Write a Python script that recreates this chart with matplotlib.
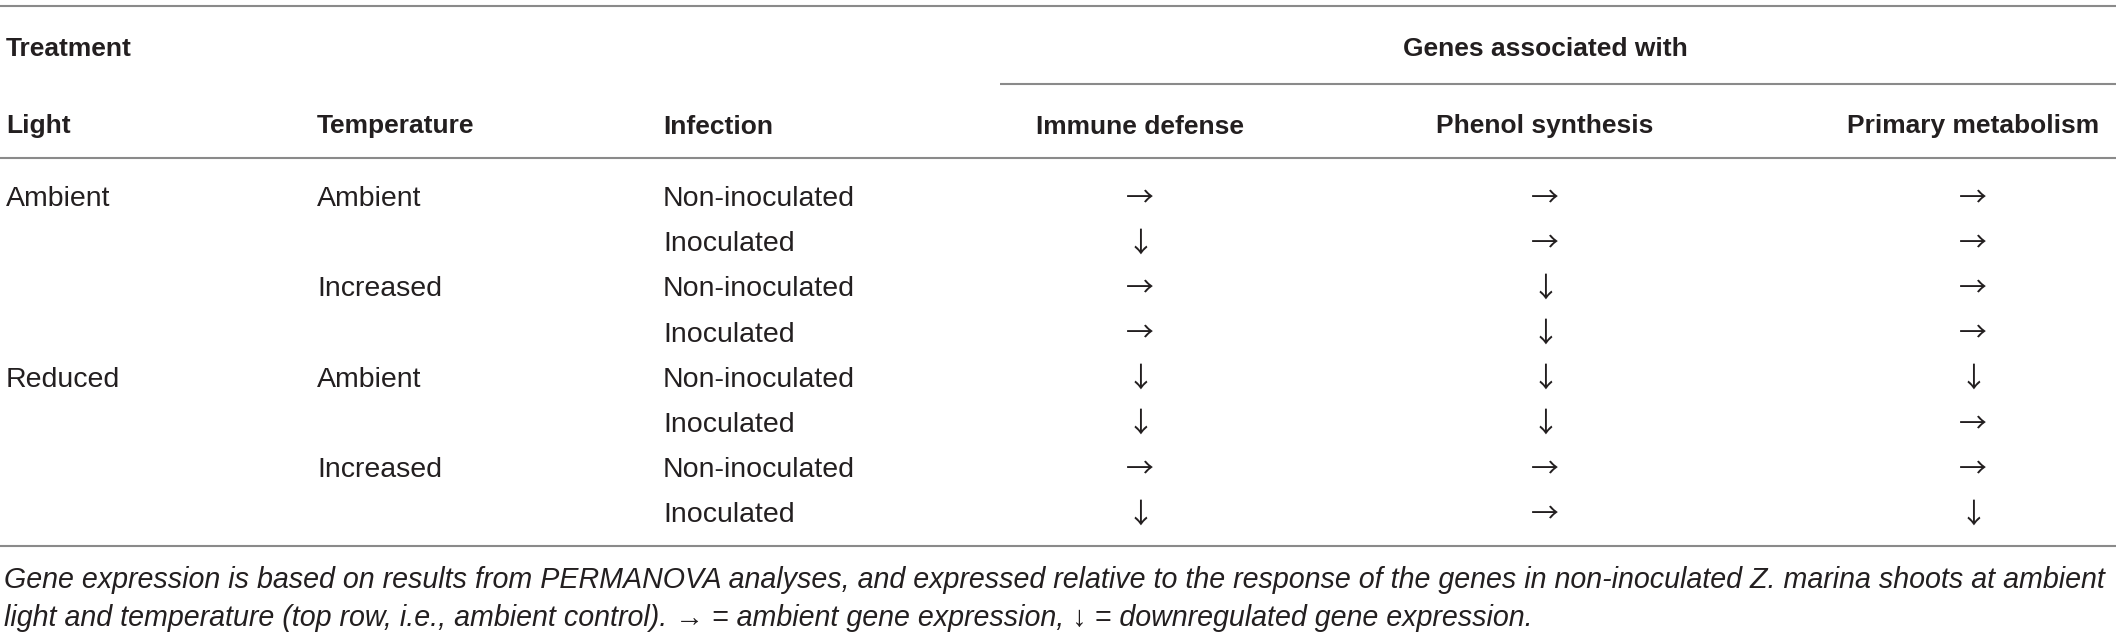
import matplotlib.pyplot as plt

plt.rcParams['font.family'] = ['Liberation Sans', 'DejaVu Sans']

# Table contents
light = ['Ambient', '', '', '', 'Reduced', '', '', '']
temperature = ['Ambient', '', 'Increased', '', 'Ambient', '', 'Increased', '']
infection = ['Non-inoculated', 'Inoculated'] * 4
immune = ['→', '↓', '→', '→', '↓', '↓', '→', '↓']
phenol = ['→', '→', '↓', '↓', '↓', '↓', '→', '→']
primary = ['→', '→', '→', '→', '↓', '→', '→', '↓']

group_header = 'Genes associated with'
col_headers = ['Light', 'Temperature', 'Infection',
               'Immune defense', 'Phenol synthesis', 'Primary metabolism']
footnote = ['Gene expression is based on results from PERMANOVA analyses, and expressed '
            'relative to the response of the genes in non-inoculated Z. marina shoots at ambient',
            'light and temperature (top row, i.e., ambient control). → = ambient gene expression, '
            '↓ = downregulated gene expression.']

W, H = 2118, 632
TXT = '#231f20'
LINE = '#8a8a8a'

fig = plt.figure(figsize=(W / 100, H / 100), dpi=100)
ax = fig.add_axes([0, 0, 1, 1])
ax.set_xlim(0, W)
ax.set_ylim(H, 0)
ax.axis('off')

left_x = [6, 317, 663]
center_x = [1140, 1545, 1973]
fs = 20.5
fs_head = 19

# header
ax.text(left_x[0], 47, 'Treatment', fontsize=fs_head, fontweight='bold', color=TXT,
        va='center_baseline', ha='left')
ax.text(center_x[1], 47, group_header, fontsize=fs_head, fontweight='bold', color=TXT,
        va='center_baseline', ha='center')
for x, h in zip(left_x, col_headers[:3]):
    ax.text(x, 124, h, fontsize=fs_head, fontweight='bold', color=TXT,
            va='center_baseline', ha='left')
for x, h in zip(center_x, col_headers[3:]):
    ax.text(x, 124, h, fontsize=fs_head, fontweight='bold', color=TXT,
            va='center_baseline', ha='center')

ax.hlines([6, 158, 546], 0, 2116, color=LINE, lw=1.5)
ax.hlines(84, 1000, 2116, color=LINE, lw=1.5)

# body rows
row_y0, row_dy = 196, 45.2
for i in range(len(infection)):
    y = row_y0 + i * row_dy
    for x, col in zip(left_x, [light, temperature, infection]):
        ax.text(x, y, col[i], fontsize=fs, color=TXT, va='center_baseline', ha='left')
    for x, col in zip(center_x, [immune, phenol, primary]):
        ax.text(x, y + 2, col[i], fontsize=20, color=TXT, va='center', ha='center',
                family=['Noto Sans CJK JP', 'DejaVu Sans'])

# footnote
for j, line in enumerate(footnote):
    ax.text(4, 577 + j * 38, line, fontsize=20.6, style='italic', color=TXT,
            va='center_baseline', ha='left')

fig.savefig('out.png', dpi=100)
